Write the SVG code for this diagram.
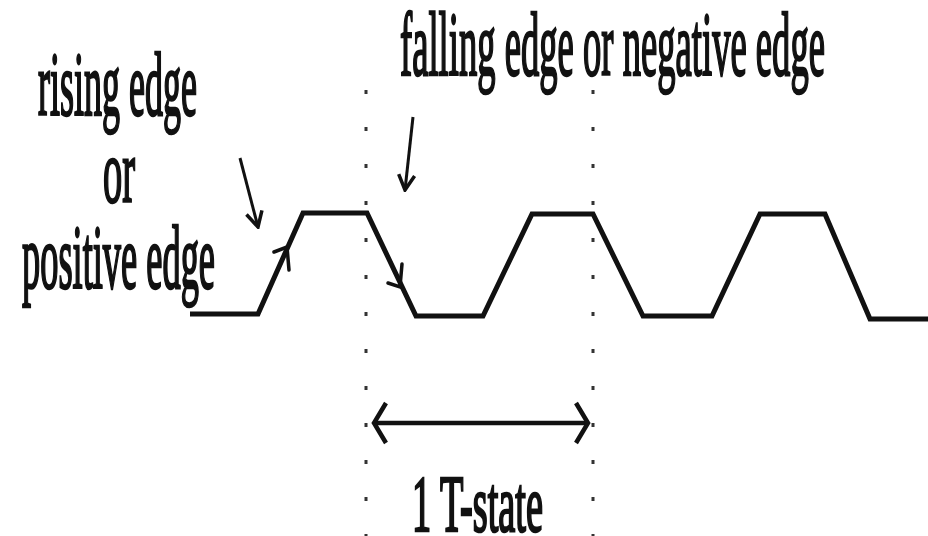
<svg xmlns="http://www.w3.org/2000/svg" width="928" height="536" viewBox="0 0 928 536">
<style>
.lbl{font-family:"Liberation Serif","Times New Roman",serif;fill:#111;stroke:#111;stroke-width:2.6}
.wave{fill:none;stroke:#111;stroke-width:5;stroke-linejoin:miter}
.dot{stroke:#333;stroke-width:3;stroke-dasharray:4 33}
.ptr{fill:none;stroke:#111;stroke-width:3}
.dim{fill:none;stroke:#111;stroke-width:4.5}
.head{fill:none;stroke:#111;stroke-width:3.5;stroke-linecap:round}
</style>
<defs>
<marker id="ptrHead" markerUnits="userSpaceOnUse" viewBox="0 0 20 20" refX="18" refY="10" markerWidth="20" markerHeight="20" orient="auto">
<path d="M3,2 L18,10 L3,18" fill="none" stroke="#111" stroke-width="3.5"/>
</marker>
<marker id="dimHead" markerUnits="userSpaceOnUse" viewBox="0 0 22 46" refX="19" refY="23" markerWidth="22" markerHeight="46" orient="auto-start-reverse">
<path d="M7,3 L19,23 L7,43" fill="none" stroke="#111" stroke-width="4.5"/>
</marker>
</defs>
<rect width="928" height="536" fill="#fff"/>
<g id="labels">
<g id="rising-label">
<text class="lbl" transform="scale(0.4,1)" x="95" y="115" font-size="90" textLength="397.5" lengthAdjust="spacingAndGlyphs">rising edge</text>
<text class="lbl" transform="scale(0.4,1)" x="257.5" y="202" font-size="90" textLength="80" lengthAdjust="spacingAndGlyphs">or</text>
<text class="lbl" transform="scale(0.4,1)" x="55" y="288" font-size="90" textLength="482.5" lengthAdjust="spacingAndGlyphs">positive edge</text>
</g>
<g id="falling-label">
<text class="lbl" transform="scale(0.4,1)" x="1000" y="75" font-size="91" textLength="1062.5" lengthAdjust="spacingAndGlyphs">falling edge or negative edge</text>
</g>
<g id="tstate-label">
<text class="lbl" transform="scale(0.46,1)" x="895.7" y="531" font-size="80" textLength="284.8" lengthAdjust="spacingAndGlyphs">1 T-state</text>
</g>
</g>
<g id="waveform">
<polyline class="wave" points="190,314 258,314 303,213 367,213 416,316 483,316 532,214 593,214 643,316 712,316 760,214 825,214 870,319 928,319"/>
<polyline class="head" points="274,252 287,247 289,270"/>
<polyline class="head" points="402,264 400,287 388,283"/>
</g>
<g id="connectors">
<line class="dot" x1="366" y1="90" x2="366" y2="536"/>
<line class="dot" x1="593" y1="90" x2="593" y2="536"/>
<line class="ptr" x1="240" y1="158" x2="258" y2="227" marker-end="url(#ptrHead)"/>
<line class="ptr" x1="413" y1="117" x2="405" y2="190" marker-end="url(#ptrHead)"/>
<line class="dim" x1="374" y1="423" x2="588" y2="423" marker-start="url(#dimHead)" marker-end="url(#dimHead)"/>
</g>
</svg>
